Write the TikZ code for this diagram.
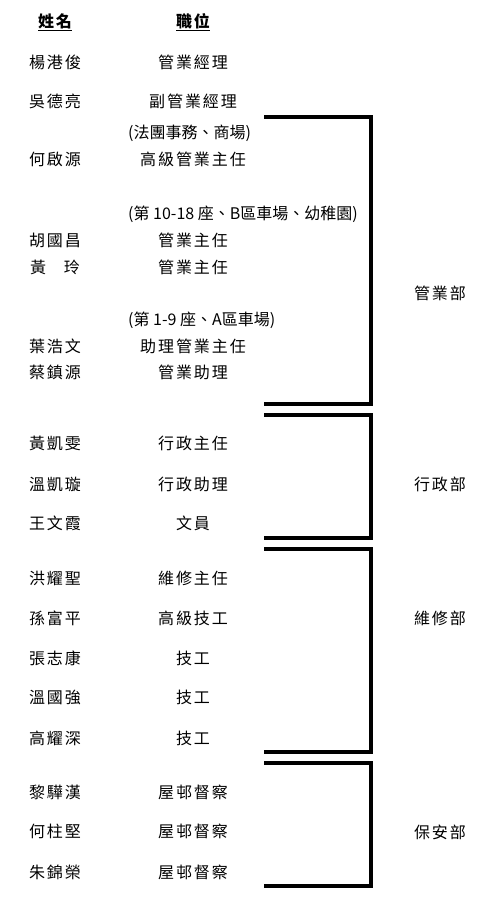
\documentclass[tikz,border=0pt]{standalone}
\usepackage{fontspec}
\setmainfont[LetterSpace=12]{Noto Sans CJK TC}
\newfontfamily\notefont{Noto Sans CJK TC}
\usetikzlibrary{positioning}

\begin{document}
\begin{tikzpicture}[x=1pt, y=-1pt, person/.style={inner sep=0pt, font=\fontsize{16pt}{18pt}\selectfont}, duty/.style={person}, note/.style={inner sep=0pt, anchor=west, font=\notefont\fontsize{16pt}{18pt}\selectfont}, dept/.style={person}, head/.style={inner sep=0pt, font=\fontsize{16pt}{18pt}\selectfont\bfseries}, bracket/.style={-, black, line width=3.5pt}]
\useasboundingbox (0,0) rectangle (496,900);
\node (h1) [head] at (55,22) {\underline{姓名}};
\node (h2) [head] at (193,22) {\underline{職位}};
\node (p1) [person] at (55,62) {楊港俊};
\node (j1) [duty] at (193,62) {管業經理};
\node (p2) [person] at (55,101) {吳德亮};
\node (j2) [duty] at (193,101) {副管業經理};
\node (c1) [note] at (128,133) {(法團事務、商場)};
\node (p3) [person] at (55,159) {何啟源};
\node (j3) [duty] at (193,159) {高級管業主任};
\node (c2) [note] at (128,214) {(第 10-18 座、B區車場、幼稚園)};
\node (p4) [person] at (55,240) {胡國昌};
\node (j4) [duty] at (193,240) {管業主任};
\node (p5) [person] at (55,267) {黃\hspace{18pt}玲};
\node (j5) [duty] at (193,267) {管業主任};
\node (c3) [note] at (128,320) {(第 1-9 座、A區車場)};
\node (p6) [person] at (55,346) {葉浩文};
\node (j6) [duty] at (193,346) {助理管業主任};
\node (p7) [person] at (55,372) {蔡鎮源};
\node (j7) [duty] at (193,372) {管業助理};
\node (p8) [person] at (55,443) {黃凱雯};
\node (j8) [duty] at (193,443) {行政主任};
\node (p9) [person] at (55,484) {溫凱璇};
\node (j9) [duty] at (193,484) {行政助理};
\node (p10) [person] at (55,523) {王文霞};
\node (j10) [duty] at (193,523) {文員};
\node (p11) [person] at (55,578) {洪耀聖};
\node (j11) [duty] at (193,578) {維修主任};
\node (p12) [person] at (55,618) {孫富平};
\node (j12) [duty] at (193,618) {高級技工};
\node (p13) [person] at (55,658) {張志康};
\node (j13) [duty] at (193,658) {技工};
\node (p14) [person] at (55,697) {溫國強};
\node (j14) [duty] at (193,697) {技工};
\node (p15) [person] at (55,738) {高耀深};
\node (j15) [duty] at (193,738) {技工};
\node (p16) [person] at (55,792) {黎驊漢};
\node (j16) [duty] at (193,792) {屋邨督察};
\node (p17) [person] at (55,831) {何柱堅};
\node (j17) [duty] at (193,831) {屋邨督察};
\node (p18) [person] at (55,872) {朱錦榮};
\node (j18) [duty] at (193,872) {屋邨督察};
\node (g1) [dept] at (440,293) {管業部};
\node (g2) [dept] at (440,484) {行政部};
\node (g3) [dept] at (440,618) {維修部};
\node (g4) [dept] at (440,832) {保安部};
  \begin{scope}
    \draw [bracket] (264,117) -| (371,404) -- (264,404);
    \draw [bracket] (264,415) -| (371,538) -- (264,538);
    \draw [bracket] (264,549) -| (371,752) -- (264,752);
    \draw [bracket] (264,763) -| (371,886) -- (264,886);
  \end{scope}
\end{tikzpicture}
\end{document}
